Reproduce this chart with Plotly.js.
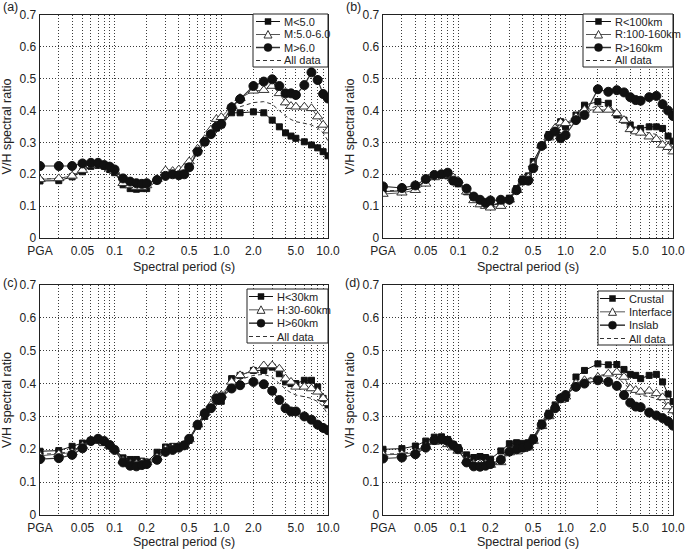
<!DOCTYPE html>
<html><head><meta charset="utf-8">
<script src="https://cdn.plot.ly/plotly-3.0.1.min.js"></script>
<style>html,body{margin:0;padding:0;background:#fff}#chart{width:685px;height:549px}</style>
</head><body><div id="chart"></div>
<script>
// Spectral periods (s); PGA is drawn at 0.02 s
const periods = [0.02,0.03,0.04,0.05,0.06,0.07,0.08,0.09,0.1,0.12,0.14,0.16,0.18,0.2,0.25,0.3,0.35,0.4,0.45,0.5,0.6,0.7,0.8,0.9,1.0,1.25,1.5,2.0,2.5,3.0,3.5,4.0,4.5,5.0,6.0,7.0,8.0,9.0,10.0];
const tickVals = [0.02,0.05,0.1,0.2,0.5,1,2,5,10];
const tickText = ['PGA','0.05','0.1','0.2','0.5','1.0','2.0','5.0','10.0'];
const minorVals = [0.03,0.04,0.06,0.07,0.08,0.09,0.3,0.4,0.6,0.7,0.8,0.9,3,4,6,7,8,9];
const yTickVals = [0,0.1,0.2,0.3,0.4,0.5,0.6,0.7];
const yTickText = ['0','0.1','0.2','0.3','0.4','0.5','0.6','0.7'];

// (a) magnitude
const magNames = ['M<5.0','M:5.0-6.0','M>6.0','All data'];
const mLt5  = [0.179,0.180,0.192,0.208,0.225,0.228,0.225,0.215,0.205,0.167,0.155,0.153,0.155,0.155,0.180,0.197,0.205,0.205,0.205,0.222,0.270,0.300,0.330,0.345,0.355,0.393,0.393,0.396,0.393,0.370,0.349,0.330,0.320,0.313,0.302,0.292,0.283,0.271,0.258];
const m5to6 = [0.184,0.187,0.195,0.213,0.228,0.232,0.226,0.218,0.210,0.172,0.165,0.160,0.160,0.165,0.185,0.212,0.210,0.215,0.220,0.240,0.280,0.310,0.340,0.373,0.379,0.413,0.439,0.462,0.464,0.477,0.454,0.425,0.414,0.412,0.412,0.407,0.381,0.355,0.337];
const mGt6  = [0.226,0.226,0.226,0.234,0.236,0.236,0.229,0.224,0.215,0.187,0.177,0.172,0.170,0.172,0.182,0.195,0.200,0.197,0.200,0.222,0.271,0.302,0.326,0.349,0.358,0.410,0.436,0.477,0.491,0.498,0.477,0.454,0.454,0.449,0.480,0.520,0.496,0.452,0.438];
const allData = [0.185,0.187,0.195,0.212,0.226,0.229,0.224,0.214,0.204,0.172,0.162,0.160,0.160,0.162,0.182,0.200,0.205,0.207,0.210,0.228,0.275,0.305,0.332,0.352,0.360,0.398,0.412,0.425,0.428,0.420,0.400,0.383,0.372,0.365,0.360,0.355,0.345,0.330,0.305];

// (b) distance
const distNames = ['R<100km','R:100-160km','R>160km','All data'];
const rLt100    = [0.146,0.148,0.158,0.180,0.197,0.200,0.195,0.178,0.170,0.145,0.130,0.115,0.108,0.100,0.110,0.125,0.155,0.185,0.195,0.240,0.290,0.325,0.335,0.365,0.349,0.386,0.417,0.428,0.423,0.386,0.370,0.355,0.339,0.344,0.349,0.349,0.344,0.320,0.304];
const r100to160 = [0.138,0.142,0.150,0.170,0.190,0.197,0.198,0.190,0.180,0.145,0.118,0.105,0.100,0.095,0.100,0.120,0.150,0.175,0.190,0.230,0.290,0.315,0.345,0.362,0.360,0.380,0.402,0.402,0.402,0.391,0.370,0.341,0.334,0.330,0.318,0.310,0.292,0.285,0.271];
const rGt160    = [0.162,0.157,0.165,0.185,0.198,0.200,0.205,0.180,0.175,0.155,0.130,0.120,0.110,0.118,0.120,0.120,0.150,0.180,0.180,0.219,0.289,0.320,0.334,0.313,0.323,0.370,0.386,0.467,0.459,0.464,0.457,0.442,0.433,0.431,0.442,0.446,0.420,0.400,0.383];
const allDataB  = [0.148,0.149,0.158,0.178,0.195,0.199,0.200,0.183,0.175,0.148,0.125,0.113,0.106,0.104,0.110,0.122,0.152,0.180,0.190,0.230,0.290,0.320,0.338,0.350,0.345,0.380,0.402,0.415,0.410,0.395,0.375,0.350,0.340,0.335,0.330,0.325,0.312,0.300,0.285];

// (c) depth
const depthNames = ['H<30km','H:30-60km','H>60km','All data'];
const hLt30   = [0.194,0.196,0.209,0.219,0.227,0.230,0.221,0.211,0.200,0.174,0.169,0.169,0.164,0.161,0.191,0.207,0.209,0.209,0.214,0.227,0.270,0.300,0.326,0.346,0.346,0.415,0.425,0.440,0.440,0.450,0.430,0.405,0.400,0.400,0.410,0.410,0.390,0.355,0.335];
const h30to60 = [0.180,0.185,0.190,0.210,0.225,0.225,0.218,0.210,0.200,0.165,0.155,0.155,0.160,0.160,0.175,0.200,0.205,0.210,0.210,0.230,0.275,0.310,0.335,0.365,0.365,0.405,0.425,0.440,0.455,0.455,0.445,0.415,0.405,0.390,0.390,0.385,0.375,0.355,0.340];
const hGt60   = [0.170,0.173,0.183,0.203,0.225,0.232,0.225,0.213,0.198,0.160,0.150,0.148,0.152,0.155,0.168,0.192,0.198,0.205,0.212,0.232,0.275,0.310,0.325,0.355,0.358,0.385,0.395,0.405,0.398,0.378,0.350,0.325,0.315,0.315,0.300,0.290,0.275,0.265,0.258];

// (d) source type
const typeNames = ['Crustal','Interface','Inslab','All data'];
const crustal   = [0.200,0.202,0.210,0.225,0.237,0.238,0.230,0.215,0.205,0.183,0.175,0.178,0.175,0.170,0.195,0.217,0.220,0.218,0.220,0.235,0.280,0.310,0.335,0.355,0.355,0.420,0.440,0.460,0.457,0.458,0.443,0.428,0.425,0.415,0.425,0.428,0.405,0.368,0.345];
const interfaceV= [0.183,0.185,0.190,0.208,0.222,0.225,0.215,0.205,0.195,0.165,0.155,0.155,0.155,0.152,0.160,0.190,0.193,0.200,0.205,0.225,0.270,0.300,0.325,0.350,0.360,0.400,0.410,0.420,0.430,0.435,0.420,0.385,0.380,0.375,0.378,0.370,0.358,0.330,0.318];
const inslab    = [0.172,0.175,0.185,0.205,0.228,0.230,0.225,0.212,0.200,0.160,0.148,0.147,0.150,0.155,0.168,0.193,0.200,0.205,0.210,0.230,0.275,0.305,0.325,0.355,0.365,0.390,0.400,0.410,0.405,0.393,0.365,0.342,0.330,0.328,0.312,0.303,0.295,0.285,0.272];

const W = 685, H = 549;
const X = p => p / W, Y = p => 1 - p / H;

const panels = [
  {label:'(a)', lab:[1,7], box:[40,328,15,238], names:magNames, series:[mLt5,m5to6,mGt6,allData],
   leg:{x0:253,x1:328,y0:14,y1:67,l0:256,l1:280,tx:282}},
  {label:'(b)', lab:[344,7], box:[383,673,15,238], names:distNames, series:[rLt100,r100to160,rGt160,allDataB],
   leg:{x0:583,x1:673,y0:14,y1:67,l0:586,l1:611,tx:613}},
  {label:'(c)', lab:[1,283], box:[40,328,285,515], names:depthNames, series:[hLt30,h30to60,hGt60,allData],
   leg:{x0:247,x1:328,y0:289,y1:343,l0:249,l1:273,tx:275}},
  {label:'(d)', lab:[343,283], box:[383,673,285,515], names:typeNames, series:[crustal,interfaceV,inslab,allData],
   leg:{x0:598,x1:673,y0:291,y1:345,l0:600,l1:625,tx:627}}
];

const styles = [
  {symbol:'square', size:6, fill:'#111', mline:'#111', line:'#111', lw:1},
  {symbol:'triangle-up', size:9, fill:'#ffffff', mline:'#333', line:'#555', lw:1},
  {symbol:'circle', size:9, fill:'#111', mline:'#111', line:'#333', lw:1.2},
  {dash:'4px,3px', line:'#333', lw:1}
];

const GRID = '#3a3a3a', GDASH = '1px,2px', TXT = '#222';
const traces = [], shapes = [], annotations = [];
const layout = {width:W, height:H, margin:{l:0,r:0,t:0,b:0}, showlegend:false,
  paper_bgcolor:'#fff', plot_bgcolor:'#fff',
  font:{family:'Liberation Sans, Arial, sans-serif', size:12, color:TXT}};

panels.forEach((p, i) => {
  const n = i === 0 ? '' : String(i + 1);
  const xa = 'x' + n, ya = 'y' + n;
  layout['xaxis' + n] = {
    domain:[X(p.box[0]), X(p.box[1])], anchor:ya, type:'log',
    range:[Math.log10(0.02), 1], tickmode:'array', tickvals:tickVals, ticktext:tickText,
    showgrid:true, gridcolor:GRID, griddash:GDASH, gridwidth:1,
    minor:{tickmode:'array', tickvals:minorVals, showgrid:true, gridcolor:GRID, griddash:GDASH, gridwidth:1, ticks:''},
    showline:true, mirror:true, linecolor:'#222', linewidth:1.3, ticks:'', zeroline:false,
    tickfont:{size:12, color:TXT}, ticklabelstandoff:1, ticklabeloverflow:'allow',
    automargin:false, fixedrange:true,
    title:{text:'Spectral period (s)', font:{size:12.5, color:TXT}, standoff:5}
  };
  layout['yaxis' + n] = {
    domain:[Y(p.box[3]), Y(p.box[2])], anchor:xa, range:[0, 0.7],
    tickmode:'array', tickvals:yTickVals, ticktext:yTickText,
    showgrid:true, gridcolor:GRID, griddash:GDASH, gridwidth:1,
    showline:true, mirror:true, linecolor:'#222', linewidth:1.3, ticks:'', zeroline:false,
    tickfont:{size:12, color:TXT}, ticklabeloverflow:'allow', automargin:false, fixedrange:true,
    title:{text:'V/H spectral ratio', font:{size:12.5, color:TXT}, standoff:5}
  };
  // data traces: dashed "All data" first, then the three groups
  [3, 0, 1, 2].forEach(k => {
    const s = styles[k];
    const tr = {x:periods, y:p.series[k], xaxis:xa, yaxis:ya, name:p.names[k], type:'scatter'};
    if (k === 3) {
      tr.mode = 'lines';
      tr.line = {color:s.line, width:s.lw, dash:s.dash};
    } else {
      tr.mode = 'lines+markers';
      tr.line = {color:s.line, width:s.lw};
      tr.marker = {symbol:s.symbol, size:s.size, color:s.fill, line:{color:s.mline, width:1}};
    }
    traces.push(tr);
  });
  // panel label
  annotations.push({text:p.label, xref:'paper', yref:'paper', x:X(p.lab[0]), y:Y(p.lab[1]),
    xanchor:'left', yanchor:'middle', showarrow:false, font:{size:12.5, color:TXT}});
  // hand-built compact legend
  const L = p.leg;
  shapes.push({type:'rect', xref:'paper', yref:'paper', x0:X(L.x0), x1:X(L.x1), y0:Y(L.y0), y1:Y(L.y1),
    fillcolor:'#fff', line:{color:'#222', width:1}, layer:'above'});
  const step = (L.y1 - L.y0 - 14) / 3;
  for (let k = 0; k < 4; k++) {
    const s = styles[k];
    const cy = L.y0 + 7.5 + k * step;
    const cx = (L.l0 + L.l1) / 2;
    shapes.push({type:'line', xref:'paper', yref:'paper', x0:X(L.l0), x1:X(k === 3 ? L.l1 + 2 : L.l1), y0:Y(cy), y1:Y(cy),
      line:{color:k === 3 ? '#333' : s.line, width:k === 2 ? 1.5 : 1, dash:k === 3 ? '4px,3px' : 'solid'}, layer:'above'});
    if (k === 0) {
      shapes.push({type:'rect', xref:'paper', yref:'paper', x0:X(cx-3), x1:X(cx+3), y0:Y(cy+3), y1:Y(cy-3),
        fillcolor:'#111', line:{color:'#111', width:0.5}, layer:'above'});
    } else if (k === 1) {
      shapes.push({type:'path', xref:'paper', yref:'paper',
        path:`M ${X(cx-4)} ${Y(cy+3.5)} L ${X(cx+4)} ${Y(cy+3.5)} L ${X(cx)} ${Y(cy-4)} Z`,
        fillcolor:'#fff', line:{color:'#333', width:1}, layer:'above'});
    } else if (k === 2) {
      shapes.push({type:'circle', xref:'paper', yref:'paper', x0:X(cx-4), x1:X(cx+4), y0:Y(cy+4), y1:Y(cy-4),
        fillcolor:'#111', line:{color:'#111', width:0.5}, layer:'above'});
    }
    annotations.push({text:p.names[k], xref:'paper', yref:'paper', x:X(L.tx), y:Y(cy),
      xanchor:'left', yanchor:'middle', showarrow:false, font:{size:11, color:TXT}});
  }
});
layout.shapes = shapes;
layout.annotations = annotations;
Plotly.newPlot('chart', traces, layout, {staticPlot:true, displayModeBar:false});
</script></body></html>
